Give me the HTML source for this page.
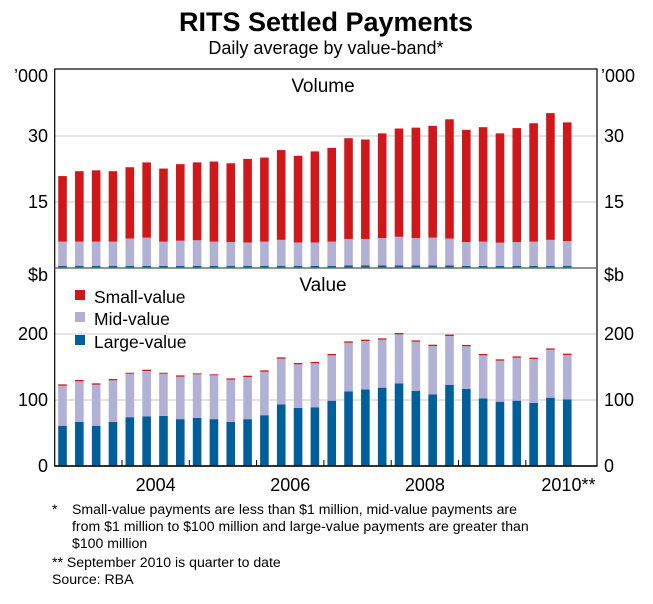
<!DOCTYPE html>
<html><head><meta charset="utf-8"><style>
body{margin:0;background:#fff;font-family:"Liberation Sans",Arial,sans-serif}
svg text{font-family:"Liberation Sans",Arial,sans-serif}
</style></head><body>
<svg id="c" width="653" height="599" xmlns="http://www.w3.org/2000/svg">
<text x="326" y="31" text-anchor="middle" font-size="27" font-weight="bold">RITS Settled Payments</text>
<text x="326" y="54" text-anchor="middle" font-size="18">Daily average by value-band*</text>
<g id="grid"></g><g id="bars"></g><g id="axes"></g>
<text x="323" y="92" text-anchor="middle" font-size="19">Volume</text>
<text x="323" y="291" text-anchor="middle" font-size="19">Value</text>
<g font-size="17.5">
<rect x="75" y="290" width="10" height="10" fill="#d0181b"/><text x="94" y="303">Small-value</text>
<rect x="75" y="312" width="10" height="10" fill="#b3b0d6"/><text x="94" y="325">Mid-value</text>
<rect x="75" y="335" width="10" height="10" fill="#005f9a"/><text x="94" y="348">Large-value</text>
</g>
<g font-size="14.1">
<text x="52" y="514">*</text>
<text x="72" y="514">Small-value payments are less than $1 million, mid-value payments are</text>
<text x="72" y="531">from $1 million to $100 million and large-value payments are greater than</text>
<text x="72" y="548">$100 million</text>
<text x="52" y="567">** September 2010 is quarter to date</text>
<text x="52" y="584">Source: RBA</text>
</g>
</svg>
<script>
const years=["2004","2006","2008","2010**"];
const volTotal=[20.9,22.0,22.2,22.0,22.9,24.0,22.6,23.6,24.0,24.2,23.8,24.8,25.1,26.8,25.5,26.5,27.3,29.5,29.2,30.6,31.7,31.9,32.3,33.8,31.4,32.0,30.6,31.8,32.9,35.2,33.1];
const volMidLarge=[6.0,6.0,6.0,6.0,6.7,6.9,6.0,6.2,6.3,6.0,5.9,5.8,6.0,6.4,5.8,5.8,6.0,6.6,6.6,6.8,7.1,6.8,6.9,6.7,5.9,6.0,5.75,5.9,6.0,6.4,6.1];
const volLarge=[0.5,0.5,0.5,0.5,0.5,0.5,0.5,0.5,0.5,0.5,0.5,0.5,0.5,0.5,0.5,0.5,0.5,0.6,0.6,0.6,0.6,0.6,0.6,0.6,0.5,0.5,0.5,0.5,0.5,0.5,0.5];
const valLarge=[61,67,61,67,74,75,76,71,73,71,67,71,77,93.5,88,89,99,113,116,118.7,125,114,108.6,123,117,102.5,97.4,99,95.5,103.5,101];
const valMidTop=[121.7,128.3,123.2,129.8,139.8,143.9,139.8,135.3,138.9,137.4,130.8,134.8,142.9,162.6,154.1,155.6,167.7,186.8,189.4,191.4,199.5,188.3,181.8,197,181.4,167.7,159.6,164.1,162.1,176.2,168.2];
const valSmall=[2,2,2,2,1.5,2,1.5,2,1.5,1.5,2,2,2,2,2,2,2,2,2,2,2,2,2,2,2,2,2,2,2,2,2];
const volTicks=[15,30], valTicks=[0,100,200];
const svg=document.getElementById('c'),NS="http://www.w3.org/2000/svg";
const L=54.7,R=597,QW=67.3/4;
const xq=i=>L+(i+0.5)*QW-0.6;
const yVol=v=>268-v*4.4, yVal=v=>466-v*0.66;
function mk(t,a,p){const e=document.createElementNS(NS,t);for(const k in a)e.setAttribute(k,a[k]);(p||svg).appendChild(e);return e;}
const G=document.getElementById('grid'),B=document.getElementById('bars'),A=document.getElementById('axes');
volTicks.forEach(t=>{const l=mk('line',{x1:L,x2:R,y1:yVol(t),y2:yVol(t),stroke:'#c8c8c8'},G);


[[48,'end'],[604,'start']].forEach(([x,an])=>{const tx=mk('text',{x:x,y:yVol(t)+6,'text-anchor':an,'font-size':18},A);tx.textContent=t;

});});
valTicks.forEach(t=>{if(t>0){const l=mk('line',{x1:L,x2:R,y1:yVal(t),y2:yVal(t),stroke:'#c8c8c8'},G);

}
[[48,'end'],[604,'start']].forEach(([x,an])=>{const tx=mk('text',{x:x,y:yVal(t)+6,'text-anchor':an,'font-size':18},A);tx.textContent=t;

});});
[[48,'end'],[601,'start']].forEach(([x,an])=>{let t=mk('text',{x:x,y:82,'text-anchor':an,'font-size':18},A);t.textContent='\u2019000';


t=mk('text',{x:an=='end'?48:604,y:281,'text-anchor':an,'font-size':18},A);t.textContent='$b';

});
const bw=8.6;
function bar(x,y0,y1,c,n){const r=mk('rect',{x:x-bw/2,y:Math.min(y0,y1),width:bw,height:Math.abs(y1-y0),fill:c},B);

}
volTotal.forEach((v,i)=>{const x=xq(i);
bar(x,yVol(0),yVol(volLarge[i]),'#005f9a','volume-large-bar');
bar(x,yVol(volLarge[i]),yVol(volMidLarge[i]),'#b3b0d6','volume-mid-bar');
bar(x,yVol(volMidLarge[i]),yVol(v),'#d0181b','volume-small-bar');
bar(x,yVal(0),yVal(valLarge[i]),'#005f9a','value-large-bar');
bar(x,yVal(valLarge[i]),yVal(valMidTop[i]),'#b3b0d6','value-mid-bar');
bar(x,yVal(valMidTop[i]),yVal(valMidTop[i]+valSmall[i]),'#d0181b','value-small-bar');});
mk('rect',{x:L,y:69,width:R-L,height:397,fill:'none',stroke:'#000','stroke-width':1.2},A);
mk('line',{x1:L,x2:R,y1:268,y2:268,stroke:'#6e6e6e','stroke-width':1.5},A);
mk('line',{x1:L,x2:R,y1:466,y2:466,stroke:'#000','stroke-width':1.5},A);
for(let k=1;k<8;k++){const x=L+k*67.3;mk('line',{x1:x,x2:x,y1:466,y2:460,stroke:'#000'},A);}
years.forEach((y,k)=>{const t=mk('text',{x:L+(1.5+2*k)*67.3+(k==3?9:0),y:491,'text-anchor':'middle','font-size':18},A);t.textContent=y;

});
</script>
</body></html>
